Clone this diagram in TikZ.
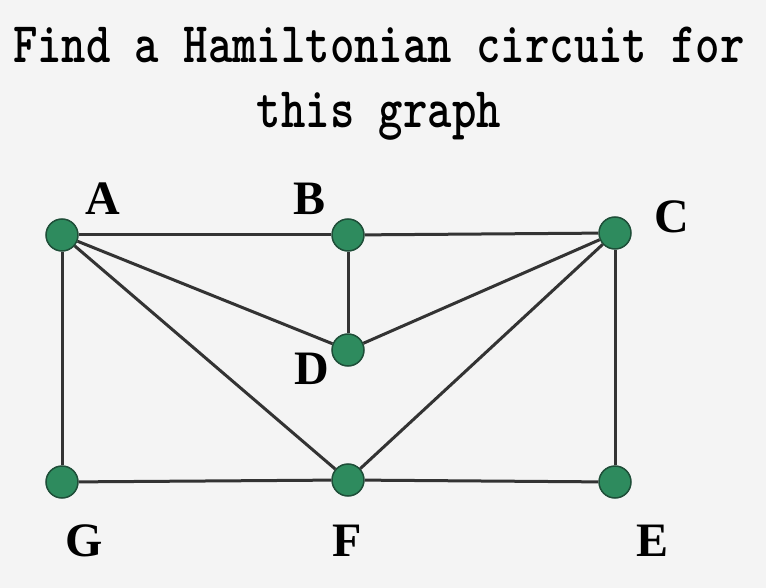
\documentclass[tikz,border=0pt]{standalone}
\usepackage{fontspec}
\usepackage{tikz}
\usetikzlibrary{positioning}
\setmainfont{Liberation Serif}

\definecolor{pagegray}{HTML}{F4F4F4}
\definecolor{vertexgreen}{HTML}{2E8B5E}
\definecolor{vertexrim}{HTML}{1E4E38}
\definecolor{edgegray}{HTML}{333333}

\tikzset{
  vertex/.style={circle, fill=vertexgreen, draw=vertexrim, line width=1.5pt,
    minimum size=32pt, inner sep=0pt},
  vlabel/.style={font=\fontsize{48}{50}\selectfont\bfseries, inner sep=0pt},
  heading/.style={font=\ttfamily\bfseries\fontsize{46}{46}\selectfont, align=center, inner sep=0pt}
}

\begin{document}
\begin{tikzpicture}[x=1pt, y=-1pt, line width=3pt, draw=edgegray]
    \fill[pagegray] (0,0) rectangle (766,588);
    \useasboundingbox (0,0) rectangle (766,588);

    % TITLE
    \node[heading] (TITLE) at (391,84)
    {
      \scalebox{1.01}[1.25]{\begin{tabular}{c}
        Find a Hamiltonian circuit for\\[6pt]
        this graph
      \end{tabular}}
    };

    % TOP ROW
    \node[vertex] (A) at (62,235) {};
    \node[vertex, node distance=286pt, right of=A] (B) {};
    \node[vertex, node distance=267pt, right of=B, yshift=2pt] (C) {};

    % MIDDLE
    \node[vertex, node distance=115pt, below of=B] (D) {};

    % BOTTOM ROW
    \node[vertex, node distance=247pt, below of=A] (G) {};
    \node[vertex, node distance=245pt, below of=B] (F) {};
    \node[vertex, node distance=249pt, below of=C] (E) {};

    % LABELS
    \node[vlabel] (LABEL_A) at (103,199) {A};
    \node[vlabel] (LABEL_B) at (310,199) {B};
    \node[vlabel] (LABEL_C) at (672,217) {C};
    \node[vlabel] (LABEL_D) at (312,369) {D};
    \node[vlabel] (LABEL_G) at (84,541) {G};
    \node[vlabel] (LABEL_F) at (347,541) {F};
    \node[vlabel] (LABEL_E) at (653,541) {E};

    % LINES
    \path[draw=edgegray]
    (A) edge (B)
    (B) edge (C)
    (A) edge (G)
    (C) edge (E)
    (G) edge (F)
    (F) edge (E)
    (B) edge (D)
    (A) edge (D)
    (D) edge (C)
    (A) edge (F)
    (C) edge (F)
    ;
\end{tikzpicture}
\end{document}
